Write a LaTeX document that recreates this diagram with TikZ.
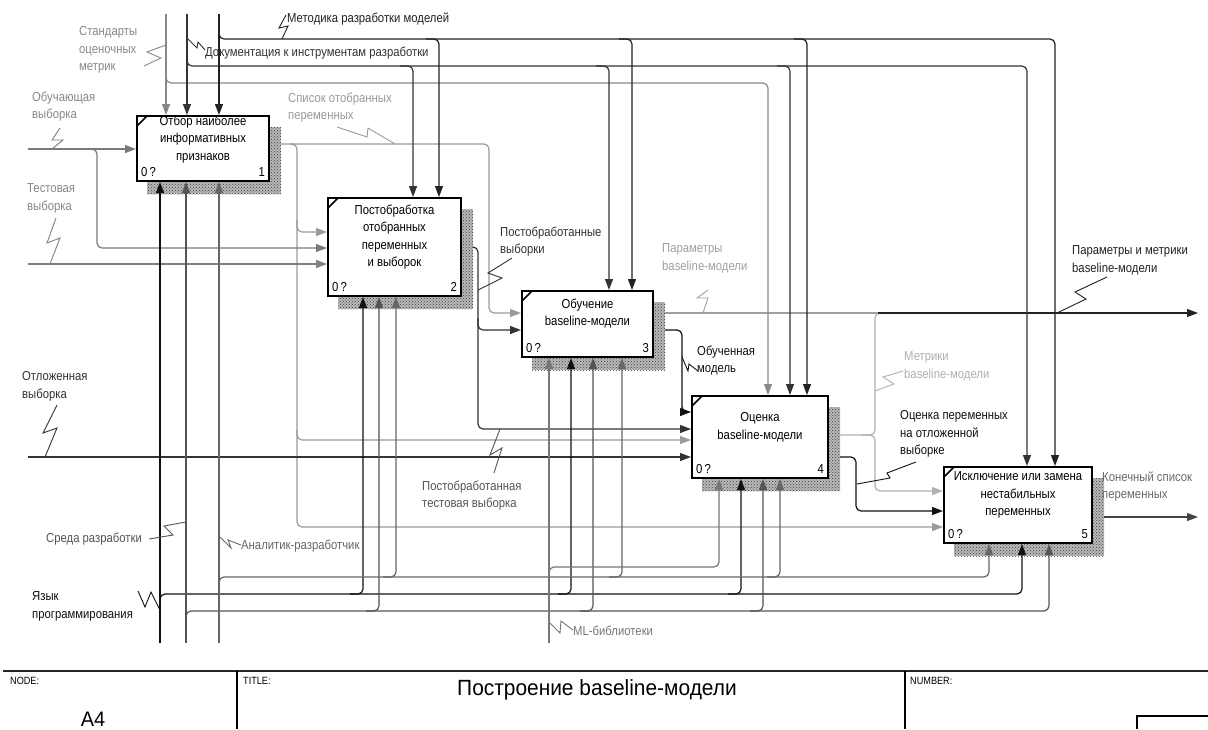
\documentclass[tikz,border=0pt]{standalone}
\usepackage{fontspec}
\setmainfont{Liberation Sans}[FakeStretch=0.87]
\newfontfamily\titlefont{Liberation Sans}[FakeStretch=0.95]
\usetikzlibrary{arrows.meta,patterns}
\definecolor{cStd}{HTML}{888888}
\definecolor{cDoc}{HTML}{333333}
\definecolor{cMet}{HTML}{222222}
\definecolor{cObu}{HTML}{7A7A7A}
\definecolor{cTest}{HTML}{808080}
\definecolor{cOtl}{HTML}{333333}
\definecolor{cSpis}{HTML}{9A9A9A}
\definecolor{cPost}{HTML}{333333}
\definecolor{cPar}{HTML}{A0A0A0}
\definecolor{cParM}{HTML}{222222}
\definecolor{cMetr}{HTML}{B0B0B0}
\definecolor{cObuch}{HTML}{111111}
\definecolor{cOcen}{HTML}{111111}
\definecolor{cKon}{HTML}{444444}
\definecolor{cYaz}{HTML}{111111}
\definecolor{cSreda}{HTML}{555555}
\definecolor{cAnal}{HTML}{666666}
\definecolor{cML}{HTML}{777777}
\newcommand\fs{\fontsize{13}{17.5}\selectfont}
\pgfdeclarelayer{outs}
\pgfdeclarelayer{shad}
\pgfdeclarelayer{ins}
\pgfsetlayers{outs,shad,ins,main}
\tikzset{
  conn/.style={line width=1.2pt, rounded corners=5pt},
  arr/.style={-{Triangle[length=11pt,width=8pt]}},
  fbox/.style={draw=black, line width=2pt, fill=white, inner sep=0pt},
  shadowbase/.style={fill=black!28},
  shadowfill/.style={pattern=crosshatch dots, pattern color=black!75},
  btext/.style={align=center, inner sep=0pt, font=\fs, anchor=north},
  lbl/.style={align=left, inner sep=0pt, anchor=north west, font=\fs},
  zig/.style={line width=0.9pt},
  corner/.style={line width=1.6pt},
  tbsmall/.style={font=\fontsize{10.5}{12}\selectfont, inner sep=0pt, anchor=west},
}
\begin{document}
\begin{tikzpicture}[x=1pt,y=-1pt]
\useasboundingbox (0,0) rectangle (1208,729);
% ---------- boxes ----------
\node[fbox, minimum width=132pt, minimum height=65pt] (b1) at (203,148.5) {};
\node[fbox, minimum width=133pt, minimum height=98pt] (b2) at (394.5,247) {};
\node[fbox, minimum width=131pt, minimum height=66pt] (b3) at (587.5,324) {};
\node[fbox, minimum width=136pt, minimum height=82pt] (b4) at (760,437) {};
\node[fbox, minimum width=148pt, minimum height=76pt] (b5) at (1018,505) {};
\foreach \b in {b1,b2,b3,b4,b5}{
  \draw[corner] ([shift={(1,11)}]\b.north west) -- ([shift={(11,1)}]\b.north west);
}
\node[btext] (t1) at (203,115.5) {Отбор наиболее\\информативных\\признаков};
\node[btext] (t2) at (394.5,204.5) {Постобработка\\отобранных\\переменных\\и выборок};
\node[btext] (t3) at (587.5,298.5) {Обучение\\baseline-модели};
\node[btext] (t4) at (760,412.5) {Оценка\\baseline-модели};
\node[btext] (t5) at (1018,471.5) {Исключение или замена\\нестабильных\\переменных};
\foreach \b/\n in {b1/1,b2/2,b3/3,b4/4,b5/5}{
  \node[font=\fs, inner sep=0pt, anchor=base west] at ([shift={(5,-6)}]\b.south west) {0\,?};
  \node[font=\fs, inner sep=0pt, anchor=base east] at ([shift={(-5,-6)}]\b.south east) {\n};
}
% ---------- free ends ----------
\coordinate (tStd) at (166,14);
\coordinate (tDoc) at (187,14);
\coordinate (tMet) at (219,14);
\coordinate (lObu) at (28,149);
\coordinate (lTest) at (28,264);
\coordinate (lOtl) at (28,457);
\coordinate (bYaz) at (160,643);
\coordinate (bSreda) at (186,643);
\coordinate (bAnal) at (219,643);
\coordinate (bML) at (549,643);
\coordinate (rPar) at (1198,313);
\coordinate (rKon) at (1198,517);
% ---------- shadows ----------
\begin{pgfonlayer}{shad}
\foreach \b in {b1,b2,b3,b4,b5}{
  \fill[shadowbase] ([shift={(11,12)}]\b.south west) rectangle ([shift={(11,12)}]\b.north east);
  \fill[shadowfill] ([shift={(11,12)}]\b.south west) rectangle ([shift={(11,12)}]\b.north east);
}
\end{pgfonlayer}
% ---------- outputs ----------
\begin{pgfonlayer}{outs}
\fill[white] (0,0) rectangle (1208,729);
\draw[conn,cSpis,arr] (b1.east |- 0,144) -- (489,144) -- (489,313) -- (b3.west |- 0,313);
\draw[conn,cSpis,arr] (290,144) -- (297,144) -- (297,232) -- (b2.west |- 0,232);
\draw[conn,cSpis,arr] (297,220) -- (297,440) -- (b4.west |- 0,440);
\draw[conn,cSpis,arr] (297,430) -- (297,527) -- (b5.west |- 0,527);
\draw[conn,cPost,arr] (b2.east |- 0,247) -- (478,247) -- (478,330) -- (b3.west |- 0,330);
\draw[conn,cPost,arr] (478,318) -- (478,429) -- (b4.west |- 0,429);
\draw[conn,cPar] (b3.east |- 0,313) -- (878,313);
\draw[conn,cMetr] (b4.east |- 0,435) -- (875,435) -- (875,313) -- (886,313);
\draw[conn,cMetr,arr] (862,435) -- (875,435) -- (875,491) -- (b5.west |- 0,491);
\draw[conn,cParM,arr] (878,313) -- (rPar);
\draw[conn,cObuch,arr] (b3.east |- 0,330) -- (682,330) -- (682,412) [sharp corners] -- (b4.west |- 0,412);
\draw[conn,cOcen,arr] (b4.east |- 0,457) -- (856,457) -- (856,511) -- (b5.west |- 0,511);
\draw[conn,cKon,arr] (b5.east |- 0,517) -- (rKon);
\end{pgfonlayer}
% ---------- inputs, controls, mechanisms ----------
\begin{pgfonlayer}{ins}
% controls
\draw[conn,cStd,arr] (tStd) -- (tStd |- b1.north);
\draw[conn,cStd,arr] (166,72) -- (166,83) -- (768,83) -- (768,0 |- b4.north);
\draw[conn,cDoc,arr] (tDoc) -- (tDoc |- b1.north);
\draw[conn,cDoc,arr] (187,54) -- (187,66) -- (1027,66) -- (1027,0 |- b5.north);
\draw[conn,cDoc,arr] (400,66) -- (413,66) -- (413,0 |- b2.north);
\draw[conn,cDoc,arr] (596,66) -- (609,66) -- (609,0 |- b3.north);
\draw[conn,cDoc,arr] (777,66) -- (790,66) -- (790,0 |- b4.north);
\draw[conn,cMet,arr] (tMet) -- (tMet |- b1.north);
\draw[conn,cMet,arr] (219,28) -- (219,39) -- (1055,39) -- (1055,0 |- b5.north);
\draw[conn,cMet,arr] (426,39) -- (439,39) -- (439,0 |- b2.north);
\draw[conn,cMet,arr] (619,39) -- (632,39) -- (632,0 |- b3.north);
\draw[conn,cMet,arr] (794,39) -- (807,39) -- (807,0 |- b4.north);
% inputs
\draw[conn,cObu,arr] (lObu) -- (b1.west |- lObu);
\draw[conn,cObu,arr] (90,149) -- (97,149) -- (97,248) -- (b2.west |- 0,248);
\draw[conn,cTest,arr] (lTest) -- (b2.west |- lTest);
\draw[conn,cOtl,arr] (lOtl) -- (b4.west |- lOtl);
% mechanisms
\draw[conn,cYaz,arr] (bYaz) -- (bYaz |- b1.south);
\draw[conn,cYaz,arr] (160,606) -- (160,594) -- (1022,594) -- (1022,0 |- b5.south);
\draw[conn,cYaz,arr] (350,594) -- (363,594) -- (363,0 |- b2.south);
\draw[conn,cYaz,arr] (558,594) -- (571,594) -- (571,0 |- b3.south);
\draw[conn,cYaz,arr] (728,594) -- (741,594) -- (741,0 |- b4.south);
\draw[conn,cSreda,arr] (bSreda) -- (bSreda |- b1.south);
\draw[conn,cSreda,arr] (186,623) -- (186,611) -- (1049,611) -- (1049,0 |- b5.south);
\draw[conn,cSreda,arr] (366,611) -- (379,611) -- (379,0 |- b2.south);
\draw[conn,cSreda,arr] (580,611) -- (593,611) -- (593,0 |- b3.south);
\draw[conn,cSreda,arr] (750,611) -- (763,611) -- (763,0 |- b4.south);
\draw[conn,cAnal,arr] (bAnal) -- (bAnal |- b1.south);
\draw[conn,cAnal,arr] (219,589) -- (219,577) -- (989,577) -- (989,0 |- b5.south);
\draw[conn,cAnal,arr] (383,577) -- (396,577) -- (396,0 |- b2.south);
\draw[conn,cAnal,arr] (609,577) -- (622,577) -- (622,0 |- b3.south);
\draw[conn,cAnal,arr] (767,577) -- (780,577) -- (780,0 |- b4.south);
\draw[conn,cML,arr] (bML) -- (bML |- b3.south);
\draw[conn,cML,arr] (549,579) -- (549,567) -- (719,567) -- (719,0 |- b4.south);
% squiggles
\draw[zig,cStd] (144,66) -- (161,58) -- (147,52) -- (166,45);
\draw[zig,cMet] (286,15) -- (279,28) -- (288,26) -- (282,39);
\draw[zig,cDoc] (188,39) -- (197,48) -- (198,42) -- (205,50);
\draw[zig,cObu] (60,128) -- (52,140) -- (63,140) -- (52,149);
\draw[zig,cSpis] (337,127) -- (367,137) -- (368,128) -- (395,144);
\draw[zig,cTest] (56,218) -- (47,243) -- (60,238) -- (50,264);
\draw[zig,cPost] (512,258) -- (488,273) -- (502,278) -- (478,290);
\draw[zig,cPar] (708,290) -- (697,298) -- (708,298) -- (703,313);
\draw[zig,cParM] (1107,277) -- (1075,292) -- (1086,299) -- (1057,313);
\draw[zig,cObuch] (682,357) -- (688,371) -- (689,364) -- (698,371);
\draw[zig,cMetr] (903,371) -- (883,377) -- (894,384) -- (875,391);
\draw[zig,cOtl] (57,405) -- (43,433) -- (57,428) -- (45,457);
\draw[zig,cOcen] (916,462) -- (887,473) -- (890,478) -- (857,484);
\draw[zig,cSreda] (494,473) -- (502,448) -- (490,455) -- (500,429);
\draw[zig,cSreda] (149,539) -- (173,535) -- (164,526) -- (186,522);
\draw[zig,cAnal] (220,537) -- (231,548) -- (228,540) -- (241,545);
\draw[zig,cYaz] (138,591) -- (145,607) -- (151,592) -- (160,610);
\draw[zig,cML] (550,623) -- (560,633) -- (561,621) -- (573,630);
\end{pgfonlayer}
% ---------- labels ----------
\node[lbl, text=cStd] (lStd) at (79,26.5) {Стандарты\\оценочных\\метрик};
\node[lbl, text=cMet] (lMet) at (287,12.5) {Методика разработки моделей};
\node[lbl, text=cDoc] (lDoc) at (205,46.5) {Документация к инструментам разработки};
\node[lbl, text=cStd] (lObuT) at (32,91.5) {Обучающая\\выборка};
\node[lbl, text=cSpis] (lSpis) at (288,92.5) {Список отобранных\\переменных};
\node[lbl, text=cStd] (lTestT) at (27,183.5) {Тестовая\\выборка};
\node[lbl, text=cPost] (lPost) at (500,226.5) {Постобработанные\\выборки};
\node[lbl, text=cPar] (lPar) at (662,243.5) {Параметры\\baseline-модели};
\node[lbl, text=cParM] (lParM) at (1072,245.5) {Параметры и метрики\\baseline-модели};
\node[lbl, text=cObuch] (lObuch) at (697,345.5) {Обученная\\модель};
\node[lbl, text=cMetr] (lMetr) at (904,351.5) {Метрики\\baseline-модели};
\node[lbl, text=cOtl] (lOtlT) at (22,371.5) {Отложенная\\выборка};
\node[lbl, text=cOcen] (lOcen) at (900,410.5) {Оценка переменных\\на отложенной\\выборке};
\node[lbl, text=cSreda] (lPostT) at (422,480.5) {Постобработанная\\тестовая выборка};
\node[lbl, text=cKon!80] (lKon) at (1102,471.5) {Конечный список\\переменных};
\node[lbl, text=cSreda] (lSreda) at (46,532.5) {Среда разработки};
\node[lbl, text=cAnal] (lAnal) at (241,539.5) {Аналитик-разработчик};
\node[lbl, text=cYaz] (lYaz) at (32,591.5) {Язык\\программирования};
\node[lbl, text=cML] (lML) at (573,625.5) {ML-библиотеки};
% ---------- title block ----------
\draw[line width=2pt, black!85] (3,671) -- (1208,671);
\draw[line width=1.2pt] (237,671) -- (237,729);
\draw[line width=1.2pt] (905,671) -- (905,729);
\draw[line width=1.2pt] (1137,729) -- (1137,716) -- (1208,716);
\node[tbsmall] (nNode) at (10,681) {NODE:};
\node[tbsmall] (nTitle) at (243,681) {TITLE:};
\node[tbsmall] (nNum) at (910,681) {NUMBER:};
\node[font=\titlefont\fontsize{22}{24}\selectfont, inner sep=0pt] (ttl) at (597,690) {Построение baseline-модели};
\node[font=\titlefont\fontsize{21}{24}\selectfont, inner sep=0pt] (nA4) at (93,719) {A4};
\end{tikzpicture}
\end{document}
